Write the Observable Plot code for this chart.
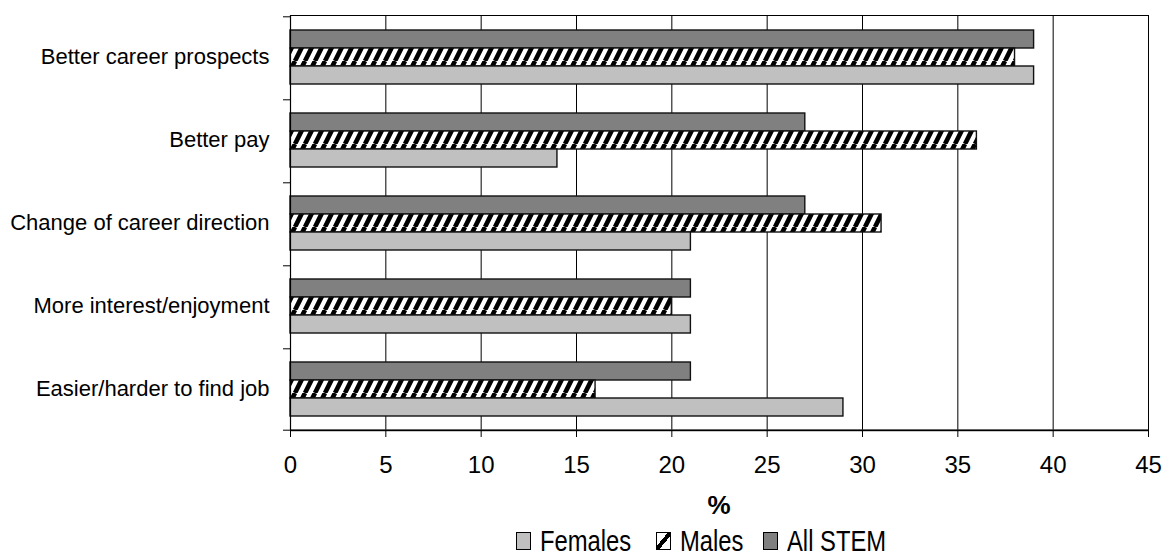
<!DOCTYPE html>
<html>
<head>
<meta charset="utf-8">
<script src="https://cdn.jsdelivr.net/npm/d3@7"></script>
<script src="https://cdn.jsdelivr.net/npm/@observablehq/plot@0.6"></script>
<style>
  body { margin: 0; background: #fff; font-family: "Liberation Sans", Arial, sans-serif; }
  #wrap { width: 1168px; }
  #below { position: relative; width: 1168px; height: 79px; }
  #xlabel { position: absolute; left: 0; width: 1438px; text-align: center; top: 14px;
            font-size: 26px; line-height: 26px; font-weight: bold; }
  #xlabel span { display: inline-block; }
  .lg-sq { position: absolute; width: 15px; height: 18px; box-sizing: border-box; border: 1px solid #000; }
  .lg-tx { position: absolute; font-size: 29px; line-height: 29px; white-space: nowrap;
           transform: scaleX(0.82); transform-origin: 0 0; }
</style>
</head>
<body>
<svg width="0" height="0" style="position:absolute">
  <defs>
    <pattern id="hatch" patternUnits="userSpaceOnUse" width="10" height="20">
      <rect width="10" height="20" fill="#fff"></rect>
      <path d="M-5,20L5,0M5,20L15,0" stroke="#000" stroke-width="4.6"></path>
    </pattern>
  </defs>
</svg>
<div id="wrap">
  <div id="chart"></div>
  <div id="below">
    <div id="xlabel"></div>
  </div>
</div>
<script>
// ---- data ----
const categories = [
  "Better career prospects",
  "Better pay",
  "Change of career direction",
  "More interest/enjoyment",
  "Easier/harder to find job"
];
const seriesOrder = ["All STEM", "Males", "Females"];   // top to bottom within a group
const legendOrder = ["Females", "Males", "All STEM"];
const allStem = [39, 27, 27, 21, 21];
const males   = [38, 36, 31, 20, 16];
const females = [39, 14, 21, 21, 29];
const xTicks = [0, 5, 10, 15, 20, 25, 30, 35, 40, 45];
const xLabel = "%";

const fills = { "All STEM": "#808080", "Males": "url(#hatch)", "Females": "#c0c0c0" };
const valuesBySeries = { "All STEM": allStem, "Males": males, "Females": females };

const data = categories.flatMap((c, i) =>
  seriesOrder.map(s => ({ category: c, series: s, value: valuesBySeries[s][i] }))
);

// ---- layout ----
const W = 1168, H = 478;
const mL = 290, mR = 20, mT = 14, mB = 48;
const outerPad = 0.7;
const band = (H - mT - mB) / categories.length;
const step = band / (seriesOrder.length + 2 * outerPad);
const edgeOffset = outerPad * step + step / 2;

const font = "'Liberation Sans', Arial, sans-serif";

const chart = Plot.plot({
  width: W, height: H,
  marginLeft: mL, marginRight: mR, marginTop: mT, marginBottom: mB,
  style: { fontFamily: font, color: "#000", background: "#fff", overflow: "visible" },
  x: { domain: [0, 45] },
  y: { domain: seriesOrder, paddingInner: 0, paddingOuter: outerPad, axis: null },
  fy: { domain: categories, padding: 0 },
  marks: [
    Plot.gridX(xTicks, { stroke: "#000", strokeOpacity: 1, strokeWidth: 1 }),
    ...seriesOrder.map(s =>
      Plot.barX(data.filter(d => d.series === s), {
        fy: "category", y: "series", x: "value",
        fill: fills[s], stroke: "#111", strokeWidth: 1.4
      })
    ),
    // category boundary ticks on the left
    Plot.ruleY(categories, { fy: d => d, y: () => seriesOrder[0], dy: -edgeOffset,
      x1: 0, x2: 0, insetLeft: -7, stroke: "#000" }),
    Plot.ruleY(categories.slice(-1), { fy: d => d, y: () => seriesOrder[seriesOrder.length - 1], dy: edgeOffset,
      x1: 0, x2: 0, insetLeft: -7, stroke: "#000" }),
    Plot.ruleY(categories.slice(-1), { fy: d => d, y: () => seriesOrder[seriesOrder.length - 1], dy: edgeOffset,
      x1: 0, x2: 45, stroke: "#333", strokeWidth: 2 }),
    Plot.ruleX([0], { stroke: "#000", strokeWidth: 1.2 }),
    Plot.frame({ facet: "super", stroke: "#000" }),
    Plot.axisX({ ticks: xTicks, tickSize: 7, tickPadding: 18, fontSize: 24, label: null, stroke: "#000" }),
    Plot.axisFy({ anchor: "left", tickSize: 0, tickPadding: 21, fontSize: 22, label: null })
  ]
});
document.getElementById("chart").appendChild(chart);

// x axis title
document.querySelector("#xlabel").innerHTML = "<span>" + xLabel + "</span>";

// legend
const below = document.getElementById("below");
const legendPos = {
  "Females": { sq: 516, tx: 540 },
  "Males": { sq: 656, tx: 680 },
  "All STEM": { sq: 763, tx: 787 }
};
const legendTop = 49;
legendOrder.forEach(s => {
  const sq = document.createElement("div");
  sq.className = "lg-sq";
  sq.style.left = legendPos[s].sq + "px";
  sq.style.top = (legendTop + 5) + "px";
  if (s === "Males") {
    sq.style.background = "linear-gradient(to bottom right, #fff 40%, #000 40%, #000 60%, #fff 60%)";
  } else {
    sq.style.background = fills[s];
  }
  below.appendChild(sq);
  const tx = document.createElement("div");
  tx.className = "lg-tx";
  tx.style.left = legendPos[s].tx + "px";
  tx.style.top = legendTop + "px";
  tx.textContent = s;
  below.appendChild(tx);
});
</script>
</body>
</html>
